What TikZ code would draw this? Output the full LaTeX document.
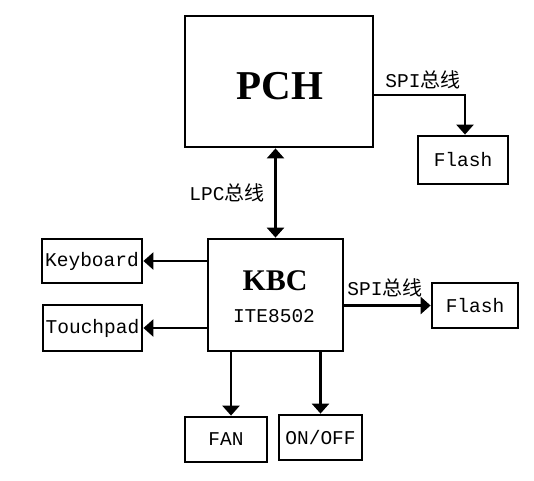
\documentclass[tikz,border=0pt]{standalone}
\usepackage{fontspec}
\setmainfont{Liberation Serif}
\newfontfamily\lblfont{Liberation Mono}
\newfontfamily\cjk{Noto Sans CJK SC}
\usetikzlibrary{arrows.meta}
\newcommand{\zx}{{\cjk\fontsize{20}{20}\selectfont 总线}}
\begin{document}
\begin{tikzpicture}[x=1pt,y=-1pt,
  box/.style={draw, line width=2.8pt, inner sep=0pt},
  lbl/.style={font=\lblfont\fontsize{19.5}{20}\selectfont, inner sep=0pt},
  title/.style={font=\bfseries\fontsize{#1}{#1}\selectfont, inner sep=0pt},
  tip/.style={Triangle[width=17pt,length=10pt]},
  arr/.style={line width=2.8pt, -{Triangle[width=17pt,length=10pt]}},
  darr/.style={line width=2.8pt, {Triangle[width=17pt,length=10pt]}-{Triangle[width=17pt,length=10pt]}}
]
\useasboundingbox[fill=white] (0,0) rectangle (534,480);

\node[box, minimum width=188pt, minimum height=131pt] (pch) at (279,81.5) {};
\node[title=41] (pcht) at (280,86) {PCH};

\node[box, lbl, minimum width=90pt, minimum height=48pt] (flash1) at (463,160) {Flash};
\node[box, minimum width=135pt, minimum height=112pt] (kbc) at (275.5,295) {};
\node[title=30] (kbct) at (275,281) {KBC};
\node[lbl] (kbcs) at (274,316) {ITE8502};

\node[box, lbl, minimum width=100pt, minimum height=44pt] (keyboard) at (92,261) {Keyboard};
\node[box, lbl, minimum width=99pt, minimum height=46pt] (touchpad) at (92.5,328) {Touchpad};
\node[box, lbl, minimum width=86pt, minimum height=45pt] (flash2) at (475,305.5) {Flash};
\node[box, lbl, minimum width=82pt, minimum height=45pt] (fan) at (226,439.5) {\raisebox{-8pt}{FAN}};
\node[box, lbl, minimum width=83pt, minimum height=45pt] (onoff) at (320.5,437.5) {\raisebox{-4pt}{ON/OFF}};

\node[lbl] (spi1) at (423,80) {SPI\zx};
\node[lbl] (lpc) at (227,193) {LPC\zx};
\node[lbl] (spi2) at (385,288) {SPI\zx};

\draw[arr] ([yshift=-13.5pt]pch.east) -| ([xshift=2pt]flash1.north);
\draw[darr] (kbc.north) -- (kbc.north |- pch.south);
\draw[arr] (kbc.west |- keyboard.east) -- (keyboard.east);
\draw[arr] (kbc.west |- touchpad.east) -- (touchpad.east);
\draw[arr] (kbc.east |- flash2.west) -- (flash2.west);
\draw[arr] ([xshift=5pt]fan.north |- kbc.south) -- ([xshift=5pt]fan.north);
\draw[arr] (onoff.north |- kbc.south) -- (onoff.north);
\end{tikzpicture}
\end{document}
